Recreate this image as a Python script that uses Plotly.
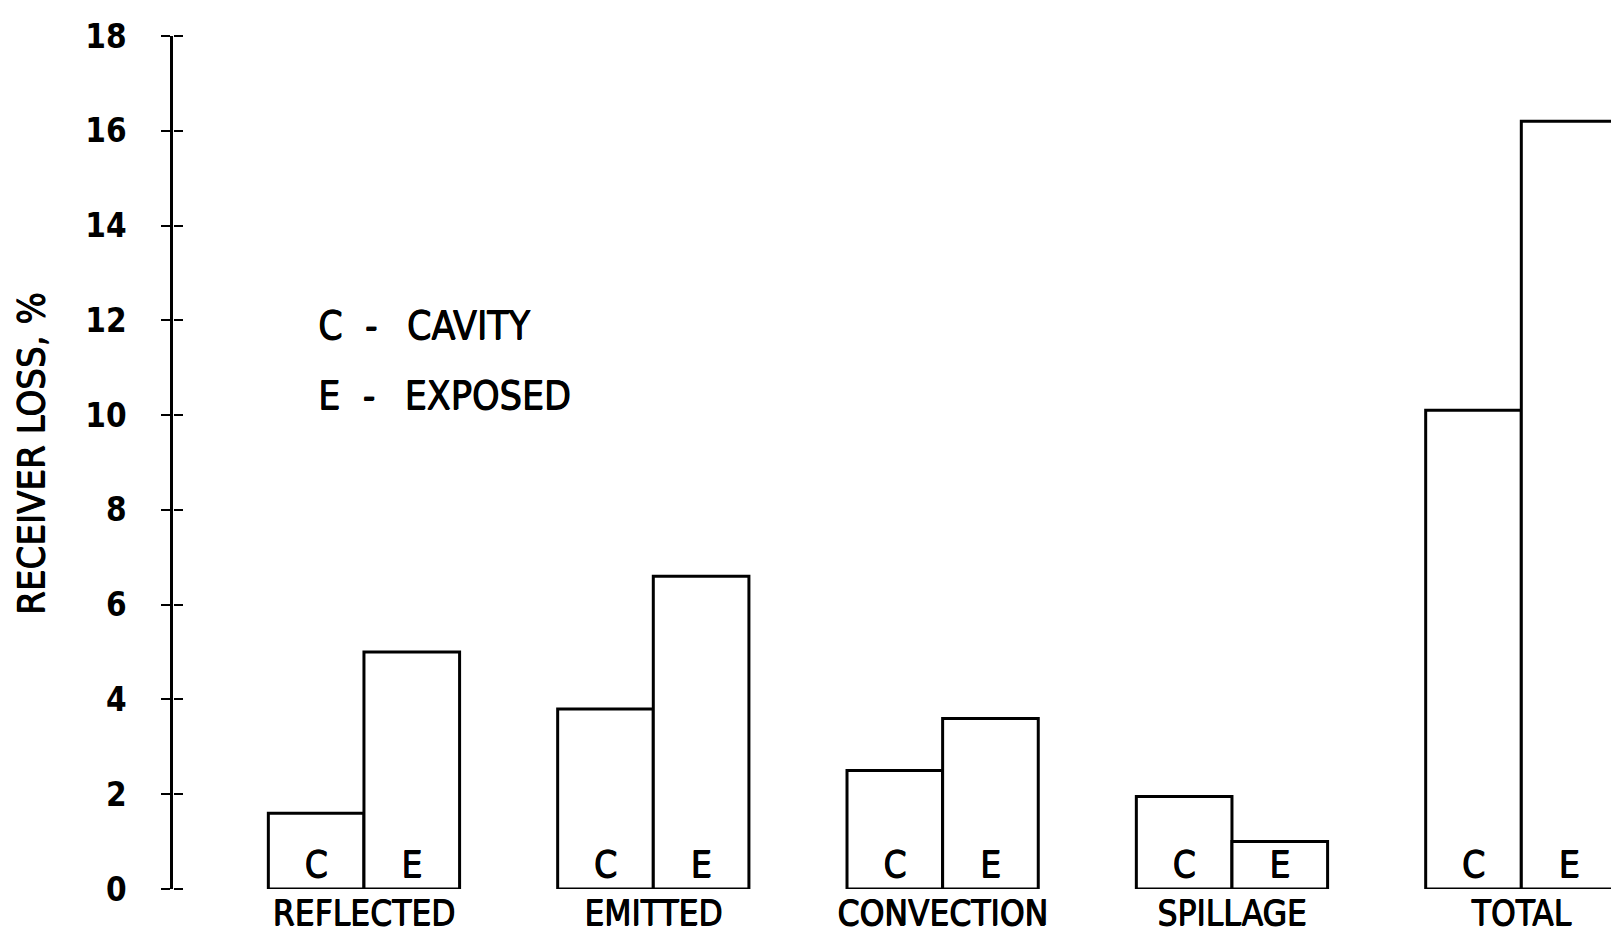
import plotly.graph_objects as go

categories = ["REFLECTED", "EMITTED", "CONVECTION", "SPILLAGE", "TOTAL"]
cavity = [1.6, 3.8, 2.5, 1.95, 10.1]
exposed = [5.0, 6.6, 3.6, 1.0, 16.2]
series_letters = ["C", "E"]
y_ticks = [0, 2, 4, 6, 8, 10, 12, 14, 16, 18]
legend_lines = ["C&nbsp;&nbsp;-&nbsp;&nbsp;&#8201;CAVITY", "E&nbsp;&nbsp;-&nbsp;&nbsp;&#8201;EXPOSED"]
y_title = "RECEIVER LOSS, %"

FONT = "Liberation Sans Narrow, DejaVu Sans Condensed, Arial Narrow, sans-serif"
THICK = "0.8px 0px 0px black, 0px 0.5px 0px black"

fig = go.Figure()
for name, vals, letter in [("CAVITY", cavity, series_letters[0]), ("EXPOSED", exposed, series_letters[1])]:
    fig.add_trace(go.Bar(
        x=categories, y=vals, name=name,
        marker=dict(color="white", line=dict(color="black", width=3)),
        text=[letter] * len(vals), textposition="inside", insidetextanchor="start",
        constraintext="none", textangle=0,
        insidetextfont=dict(family=FONT, size=37, color="black", shadow=THICK),
        showlegend=False, hoverinfo="skip",
    ))

fig.update_layout(
    width=1611, height=938,
    margin=dict(l=173, r=0, t=36, b=49),
    paper_bgcolor="white", plot_bgcolor="white",
    barmode="group", bargap=0.339, bargroupgap=0,
    font=dict(family=FONT, color="black"),
    xaxis=dict(
        type="category", range=[-0.66, 4.31],
        showline=False, showgrid=False, zeroline=False, ticks="",
        tickfont=dict(family=FONT, size=35, color="black", shadow=THICK),
        ticklabelstandoff=0, automargin=False,
    ),
    yaxis=dict(
        range=[0, 18], tickvals=y_ticks, showgrid=False, zeroline=False,
        showline=True, linecolor="black", linewidth=2.5,
        ticks="outside", ticklen=9, tickwidth=2, tickcolor="black",
        tickfont=dict(family=FONT, size=33, color="black", weight="bold"),
        ticklabelstandoff=28, automargin=False,
    ),
    yaxis2=dict(
        overlaying="y", side="right", anchor="free", position=0,
        range=[0, 18], tickvals=y_ticks, showgrid=False, zeroline=False,
        showline=False, ticks="outside", ticklen=9, tickwidth=2, tickcolor="black",
        showticklabels=False, automargin=False,
    ),
)
# invisible trace to activate the inner tick axis
fig.add_trace(go.Scatter(x=[categories[0]], y=[0], yaxis="y2", mode="markers",
                         marker=dict(opacity=0), showlegend=False, hoverinfo="skip"))

fig.add_annotation(text=y_title, textangle=-90, xref="paper", yref="paper",
                   x=-0.0987, y=0.51, xanchor="center", yanchor="middle", showarrow=False,
                   font=dict(family=FONT, size=38, color="black", shadow=THICK))
for i, line in enumerate(legend_lines):
    fig.add_annotation(text=line, xref="paper", yref="paper",
                       x=0.0994, y=[0.661, 0.579][i], xanchor="left", yanchor="middle",
                       showarrow=False, font=dict(family=FONT, size=39, color="black", shadow=THICK))

fig.write_html("out.html", config={"displayModeBar": False},
               post_script="document.body.style.margin='0px';")
